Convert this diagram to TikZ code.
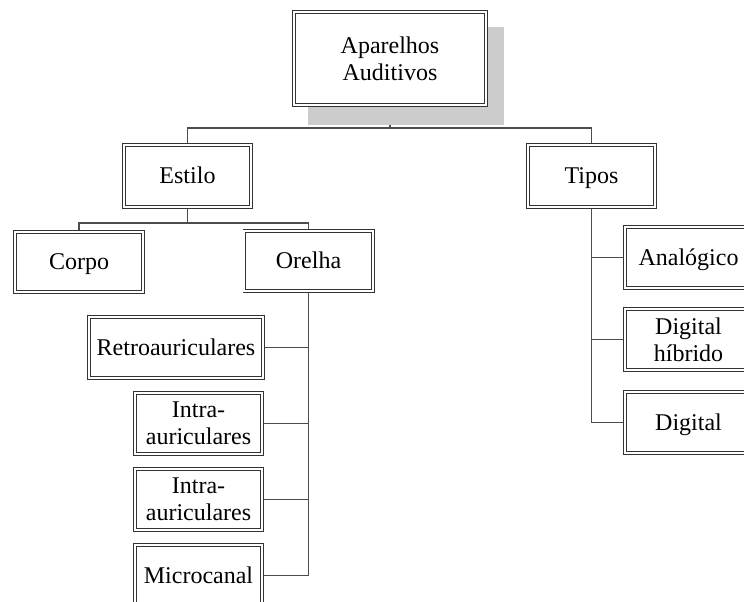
\documentclass[tikz,border=0pt]{standalone}
\usepackage{fontspec}
\setmainfont{Liberation Serif}
\usetikzlibrary{backgrounds}
\begin{document}
\begin{tikzpicture}[x=1pt,y=-1pt,
  box/.style={draw=black!80, line width=0.9pt, double=white, double distance=1.8pt,
    fill=white, inner sep=0pt, align=center,
    font=\fontsize{24}{27}\selectfont},
  oneline/.style={text height=15.8pt, text depth=0pt},
  conn/.style={draw=black!70, line width=1.2pt}]
  \useasboundingbox (0,0) rectangle (744,602);
  \clip (0,0) rectangle (744,602);
  % drop shadow of the root box
  \fill[gray!40] (308,27) rectangle (504,125);
  % boxes
  \node[box, minimum width=192.4pt, minimum height=93.4pt] (top) at (390,58.5) {Aparelhos\\Auditivos};
  \node[box, oneline, minimum width=127.4pt, minimum height=62.4pt] (estilo) at (187.5,176) {Estilo};
  \node[box, oneline, minimum width=127.4pt, minimum height=62.4pt] (tipos) at (591.5,176) {Tipos};
  \node[box, oneline, minimum width=128.4pt, minimum height=60.4pt] (corpo) at (79,262) {Corpo};
  \node[box, oneline, minimum width=128.4pt, minimum height=60.4pt] (orelha) at (308.5,261) {Orelha};
  \node[box, oneline, minimum width=174.4pt, minimum height=61.4pt] (retro) at (176,347.5) {Retroauriculares};
  \node[box, minimum width=127.4pt, minimum height=61.4pt] (intraA) at (198.5,423.5) {Intra-\\auriculares};
  \node[box, minimum width=127.4pt, minimum height=61.4pt] (intraB) at (198.5,499.5) {Intra-\\auriculares};
  \node[box, oneline, minimum width=127.4pt, minimum height=61.4pt] (micro) at (198.5,575.5) {Microcanal};
  \node[box, oneline, minimum width=127.4pt, minimum height=61.4pt] (analog) at (688.5,257.5) {Analógico};
  \node[box, minimum width=127.4pt, minimum height=61.4pt] (hibrido) at (688.5,339.5) {Digital\\híbrido};
  \node[box, oneline, minimum width=127.4pt, minimum height=61.4pt] (digital) at (688.5,422.5) {Digital};
  % connectors
  \begin{scope}[on background layer]
    \draw[conn] (top.south) -- (top.south |- 0,128) -| (estilo.north);
    \draw[conn] (top.south) -- (top.south |- 0,128) -| (tipos.north);
    \draw[conn] (estilo.south) -- (estilo.south |- 0,223) -| (corpo.north);
    \draw[conn] (estilo.south) -- (estilo.south |- 0,223) -| (orelha.north);
    \draw[conn] (orelha.south) |- (retro.east);
    \draw[conn] (orelha.south) |- (intraA.east);
    \draw[conn] (orelha.south) |- (intraB.east);
    \draw[conn] (orelha.south) |- (micro.east);
    \draw[conn] (tipos.south) |- (analog.west);
    \draw[conn] (tipos.south) |- (hibrido.west);
    \draw[conn] (tipos.south) |- (digital.west);
  \end{scope}
\end{tikzpicture}
\end{document}
